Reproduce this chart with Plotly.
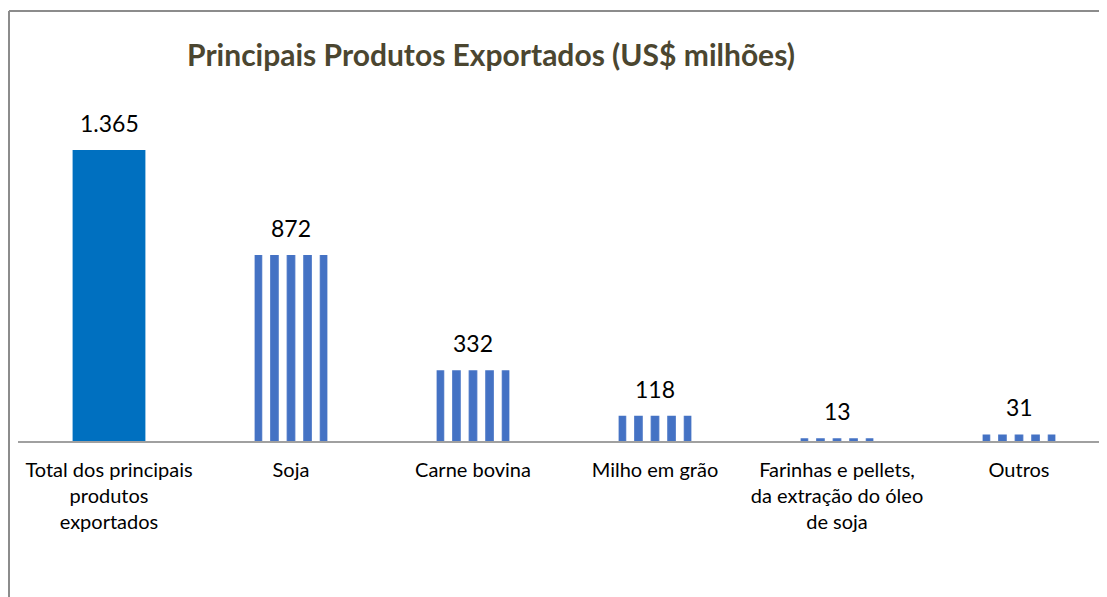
import plotly.graph_objects as go

categorias = ["Total dos principais<br>produtos<br>exportados", "Soja", "Carne bovina",
              "Milho em grão", "Farinhas e pellets,<br>da extração do óleo<br>de soja", "Outros"]
valores = [1365, 872, 332, 118, 13, 31]
rotulos = ["1.365", "872", "332", "118", "13", "31"]

# page body adds an 8px margin, so the figure is drawn 8px in from the top-left
W, H = 1099, 589
ml, mr, mt, mb = 10, 0, 92, 156
pw, ph = W - ml - mr, H - mt - mb
passo = 182  # px per category

fig = go.Figure()

# total: solid bar
fig.add_trace(go.Bar(
    x=[0], y=valores[:1], width=0.4,
    marker=dict(color="#0070C0", line=dict(width=0)),
    hoverinfo="skip",
))
# products: vertical stripes (period chosen so every bar gets the same phase)
fig.add_trace(go.Bar(
    x=list(range(1, len(valores))), y=valores[1:], width=0.4,
    marker=dict(color="#4472C4", line=dict(width=0),
                pattern=dict(shape="|", size=passo / 11, solidity=0.52,
                             fgcolor="#4472C4", bgcolor="white", fillmode="replace")),
    hoverinfo="skip",
))

annotations = []
for i, (v, t) in enumerate(zip(valores, rotulos)):
    annotations.append(dict(x=i, y=v, text=t, showarrow=False, yanchor="bottom",
                            yshift=11, font=dict(family="Lato", size=23, color="#000000")))

fig.update_layout(
    width=W, height=H,
    margin=dict(l=ml, r=mr, t=mt, b=mb),
    paper_bgcolor="white", plot_bgcolor="white",
    showlegend=False,
    bargap=0.6,
    title=dict(text="<b>Principais Produtos Exportados (US$ milhões)</b>",
               x=(491 - 8) / W, xanchor="center", y=1 - 47 / H, yanchor="middle",
               font=dict(family="Lato", size=30, color="#4B4630")),
    xaxis=dict(range=[-0.5, -0.5 + pw / passo], tickmode="array",
               tickvals=list(range(len(categorias))), ticktext=categorias,
               showline=True, linecolor="#A0A0A0", linewidth=2,
               showgrid=False, zeroline=False, ticks="",
               ticklabelstandoff=10,
               tickfont=dict(family="Lato", size=20, color="#000000")),
    yaxis=dict(range=[0, ph / (291 / 1365)], visible=False, showgrid=False),
    annotations=annotations,
    shapes=[
        dict(type="line", xref="paper", yref="paper",
             x0=-9 / pw, x1=-9 / pw, y0=(433 - 3) / ph, y1=-0.6,
             line=dict(color="#8C8C8C", width=2)),
        dict(type="line", xref="paper", yref="paper",
             x0=-9 / pw, x1=1.02, y0=(433 - 3) / ph, y1=(433 - 3) / ph,
             line=dict(color="#8C8C8C", width=2)),
    ],
)

fig.write_html("out.html")
